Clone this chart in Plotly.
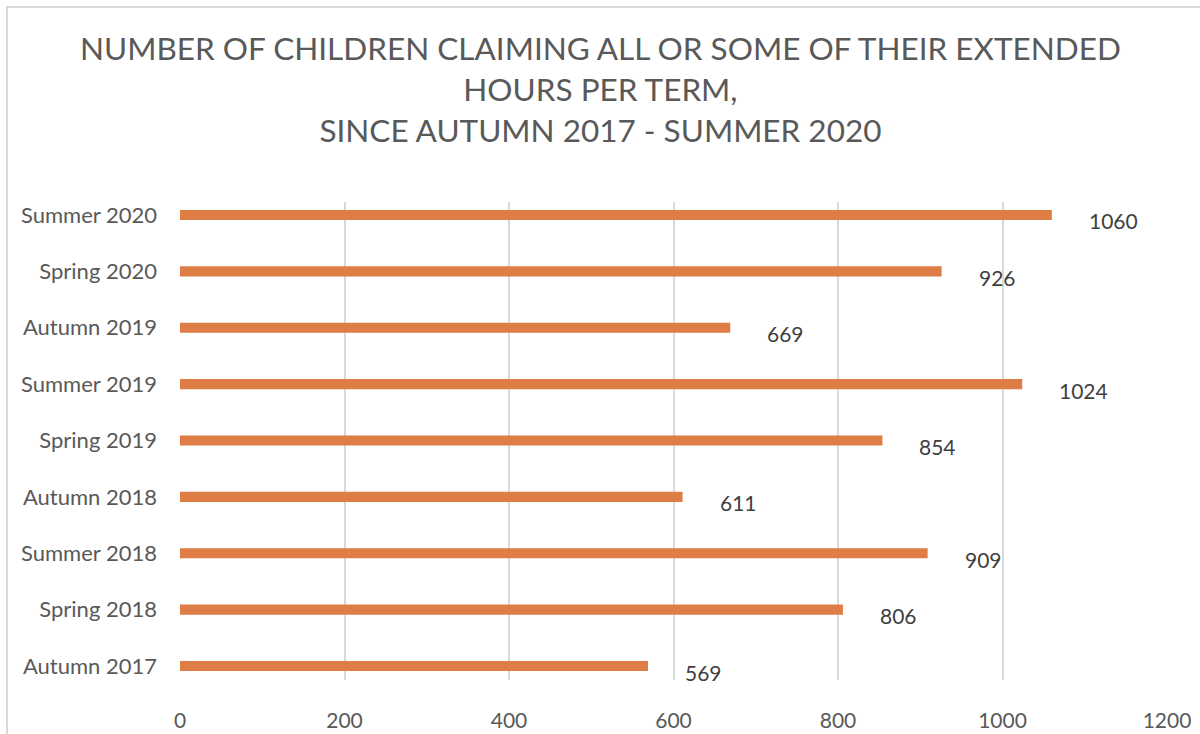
import plotly.graph_objects as go

terms = ["Autumn 2017", "Spring 2018", "Summer 2018", "Autumn 2018", "Spring 2019",
         "Summer 2019", "Autumn 2019", "Spring 2020", "Summer 2020"]
children = [569, 806, 909, 611, 854, 1024, 669, 926, 1060]
x_ticks = [0, 200, 400, 600, 800, 1000, 1200]

BAR = "#DF7D46"
FONT = "Lato, 'Open Sans', sans-serif"

W, H = 1200, 734
L, R, T, B = 180, 33, 202, 54
pw, ph = W - L - R, H - T - B

fig = go.Figure()
fig.add_trace(go.Bar(
    x=children, y=list(range(len(terms))), orientation="h",
    marker=dict(color=BAR, line=dict(width=0)), width=0.18,
    hoverinfo="x",
))

for i, v in enumerate(children):
    fig.add_annotation(x=v, y=i, text=str(v), showarrow=False,
                       xanchor="left", yanchor="middle", xshift=35, yshift=-6,
                       font=dict(family=FONT, size=21, color="#404040"))

fig.add_annotation(
    x=0.5 + (600 - (L + pw / 2)) / pw, y=1 + (T - 89) / ph, xref="paper", yref="paper",
    text="NUMBER OF CHILDREN CLAIMING ALL OR SOME OF THEIR EXTENDED<br>HOURS PER TERM,<br>SINCE AUTUMN 2017 - SUMMER 2020",
    showarrow=False, xanchor="center", yanchor="middle", align="center",
    font=dict(family=FONT, size=31.5, color="#595959"),
)

# outer chart frame
fig.add_shape(type="rect", xref="paper", yref="paper",
              x0=(7 - L) / pw, x1=(W + 20 - L) / pw,
              y0=-(B + 20) / ph, y1=1 + (T - 7) / ph,
              line=dict(color="#D9D9D9", width=2), fillcolor="rgba(0,0,0,0)", layer="below")

fig.update_layout(
    width=W, height=H,
    margin=dict(l=L, r=R, t=T, b=B, pad=0, autoexpand=False),
    paper_bgcolor="white", plot_bgcolor="white",
    showlegend=False,
    font=dict(family=FONT, color="#595959"),
    xaxis=dict(range=[0, 1200], tickvals=x_ticks, ticktext=[str(t) for t in x_ticks],
               showgrid=True, gridcolor="#D9D9D9", gridwidth=1.5, zeroline=False,
               showline=False, ticks="", tickfont=dict(size=21, color="#595959"),
               ticklabelstandoff=26, automargin=False, fixedrange=True),
    yaxis=dict(range=[-0.248, 8.23], tickvals=list(range(len(terms))), ticktext=terms,
               showgrid=False, zeroline=False, showline=False, ticks="",
               tickfont=dict(size=22, color="#595959"), ticklabelstandoff=22,
               automargin=False, fixedrange=True),
)

fig.write_html("out.html")
